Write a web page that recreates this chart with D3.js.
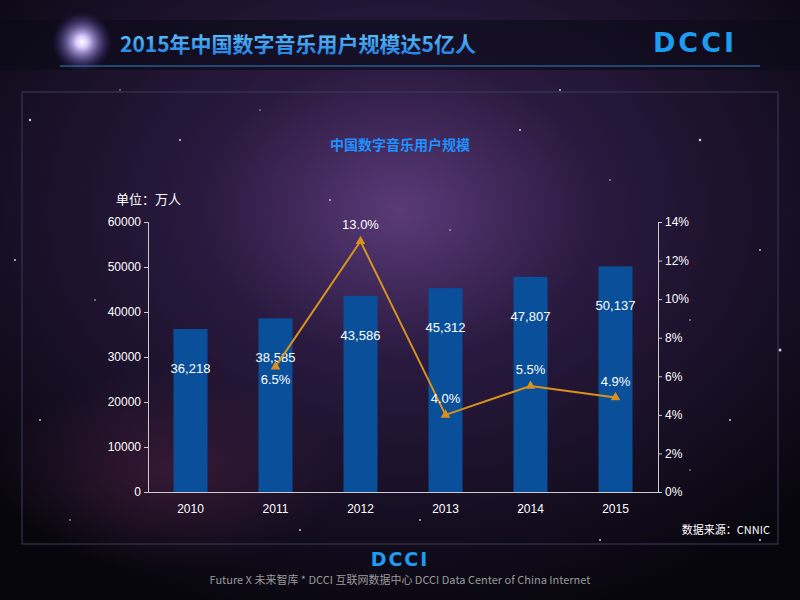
<!DOCTYPE html>
<html><head><meta charset="utf-8">
<script src="https://cdn.jsdelivr.net/npm/d3@7"></script>
<style>body{margin:0;background:#000}svg{display:block}</style>
</head><body>
<svg id="c" width="800" height="600"></svg>
<script>
const years = ["2010","2011","2012","2013","2014","2015"];
const users = [36218,38585,43586,45312,47807,50137];
const growthYears = ["2011","2012","2013","2014","2015"];
const growth = [6.5,13.0,4.0,5.5,4.9];
const leftTicks = [0,10000,20000,30000,40000,50000,60000];
const rightTicks = [0,2,4,6,8,10,12,14];
const stars = [[30,120,1.2],[95,300,0.8],[180,140,1],[260,110,0.7],[330,200,0.9],[520,130,1],[610,180,0.8],[700,140,1.3],[760,250,0.9],[730,420,1],[780,350,1.5],[40,420,0.9],[70,520,0.8],[300,530,1],[520,510,1.2],[690,470,0.7],[450,230,0.8],[560,90,0.9],[120,90,0.7],[760,540,1.1],[420,520,0.9],[600,540,1.0],[15,260,1],[690,320,0.8]];

const svg = d3.select("#c");
const defs = svg.append("defs");
const bg = defs.append("radialGradient").attr("id","bg").attr("cx","0.5").attr("cy","0.35").attr("r","0.7");
bg.append("stop").attr("offset","0").attr("stop-color","#5a3a78");
bg.append("stop").attr("offset","0.35").attr("stop-color","#2a1a40");
bg.append("stop").attr("offset","1").attr("stop-color","#07060d");
const glow = defs.append("radialGradient").attr("id","glow");
glow.append("stop").attr("offset","0").attr("stop-color","#fff");
glow.append("stop").attr("offset","0.2").attr("stop-color","#d8c8ff");
glow.append("stop").attr("offset","1").attr("stop-color","#4030a0").attr("stop-opacity",0);
const tg = defs.append("linearGradient").attr("id","tg").attr("x1",0).attr("y1",0).attr("x2",0).attr("y2",1);
tg.append("stop").attr("offset","0").attr("stop-color","#6ad0ff");
tg.append("stop").attr("offset","1").attr("stop-color","#1a78e0");
const pk = defs.append("radialGradient").attr("id","pk");
pk.append("stop").attr("offset","0").attr("stop-color","#4a2040").attr("stop-opacity",0.6);
pk.append("stop").attr("offset","1").attr("stop-color","#4a2040").attr("stop-opacity",0);

svg.append("rect").attr("width",800).attr("height",600).attr("fill","url(#bg)");
svg.append("ellipse").attr("cx",170).attr("cy",470).attr("rx",170).attr("ry",100).attr("fill","url(#pk)");
svg.selectAll(".st").data(stars).join("circle").attr("cx",d=>d[0]).attr("cy",d=>d[1]).attr("r",d=>d[2]).attr("fill","#fff").attr("opacity",0.8);

// header
svg.append("rect").attr("x",0).attr("y",20).attr("width",800).attr("height",50).attr("fill","#0a0a18").attr("opacity",0.6);
svg.append("line").attr("x1",60).attr("x2",760).attr("y1",66).attr("y2",66).attr("stroke","#2a5a8a").attr("stroke-width",1.5);
svg.append("circle").attr("cx",82).attr("cy",42).attr("r",30).attr("fill","url(#glow)");
svg.append("text").attr("x",120).attr("y",52).attr("fill","url(#tg)").attr("font-size",21).attr("font-weight","bold")
  .attr("font-family","Noto Sans CJK SC").text("2015年中国数字音乐用户规模达5亿人");
svg.append("text").attr("x",695).attr("y",52).attr("text-anchor","middle").attr("fill","#1e9cf0").attr("font-size",27)
  .attr("font-weight","bold").attr("font-family","DejaVu Sans").attr("letter-spacing",3).text("DCCI");

// frame
svg.append("rect").attr("x",22).attr("y",92).attr("width",756).attr("height",452).attr("fill","none").attr("stroke","#3a3a5a").attr("stroke-width",1);

svg.append("text").attr("x",400).attr("y",150).attr("text-anchor","middle").attr("fill","#1e90ff").attr("font-size",14)
  .attr("font-weight","bold").attr("font-family","Noto Sans CJK SC").text("中国数字音乐用户规模");
svg.append("text").attr("x",116).attr("y",204).attr("fill","#fff").attr("font-size",13)
  .attr("font-family","Noto Sans CJK SC").text("单位：万人");

const x = d3.scaleBand().domain(years).range([148,658]);
const yL = d3.scaleLinear().domain([0,60000]).range([492,222]);
const yR = d3.scaleLinear().domain([0,14]).range([492,222]);

const axL = svg.append("g").attr("transform","translate(148,0)")
  .call(d3.axisLeft(yL).tickValues(leftTicks).tickFormat(d3.format("d")).tickSize(4));
const axR = svg.append("g").attr("transform","translate(658,0)")
  .call(d3.axisRight(yR).tickValues(rightTicks).tickFormat(d=>d+"%").tickSize(4));
const axB = svg.append("g").attr("transform","translate(0,492)")
  .call(d3.axisBottom(x).tickSize(0).tickPadding(12));
[axL,axR,axB].forEach(a=>{a.selectAll("path,line").attr("stroke","#ccc");
  a.selectAll("text").attr("fill","#fff").attr("font-size",12).attr("font-family","Liberation Sans");});

svg.selectAll(".bar").data(years).join("rect").attr("x",d=>x(d)+x.bandwidth()/2-17).attr("width",34)
  .attr("y",(d,i)=>yL(users[i])).attr("height",(d,i)=>492-yL(users[i])).attr("fill","#0a4f9a");
svg.selectAll(".bl").data(years).join("text").attr("x",d=>x(d)+x.bandwidth()/2).attr("y",(d,i)=>yL(users[i])+44)
  .attr("text-anchor","middle").attr("fill","#fff").attr("font-size",13).attr("font-family","Liberation Sans")
  .text((d,i)=>d3.format(",")(users[i]));

const cx = d=>x(d)+x.bandwidth()/2;
svg.append("path").attr("d",d3.line().x((d,i)=>cx(growthYears[i])).y(d=>yR(d))(growth))
  .attr("fill","none").attr("stroke","#d8921c").attr("stroke-width",2);
svg.selectAll(".mk").data(growth).join("path").attr("d",d3.symbol(d3.symbolTriangle,40))
  .attr("transform",(d,i)=>`translate(${cx(growthYears[i])},${yR(d)})`).attr("fill","#d8921c");
// first point's label sits below its marker (under the bar label), the rest above
svg.selectAll(".gl").data(growth).join("text").attr("x",(d,i)=>cx(growthYears[i]))
  .attr("y",(d,i)=>i===0 ? yR(d)+17 : yR(d)-12)
  .attr("text-anchor","middle").attr("fill","#fff").attr("font-size",13).attr("font-family","Liberation Sans")
  .text(d=>d.toFixed(1)+"%");

svg.append("text").attr("x",770).attr("y",534).attr("text-anchor","end").attr("fill","#fff").attr("font-size",11)
  .attr("font-family","Noto Sans CJK SC").text("数据来源：CNNIC");

svg.append("text").attr("x",400).attr("y",566).attr("text-anchor","middle").attr("fill","#1e9cf0").attr("font-size",19)
  .attr("font-weight","bold").attr("font-family","DejaVu Sans").attr("letter-spacing",2).text("DCCI");
svg.append("text").attr("x",400).attr("y",584).attr("text-anchor","middle").attr("fill","#999").attr("font-size",11)
  .attr("font-family","Noto Sans CJK SC").text("Future X 未来智库 * DCCI 互联网数据中心 DCCI Data Center of China Internet");
</script></body></html>
